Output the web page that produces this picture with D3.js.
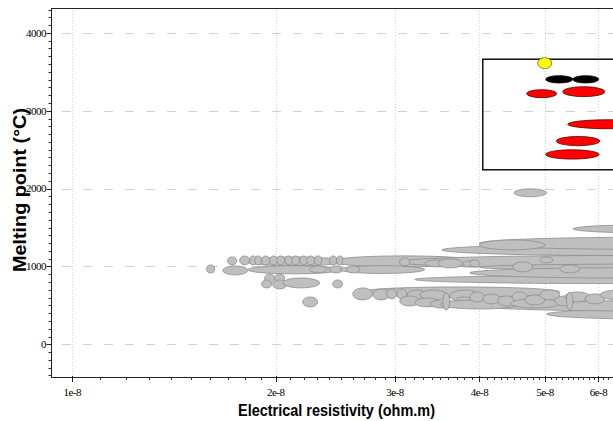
<!DOCTYPE html>
<html>
<head>
<meta charset="utf-8">
<script src="https://cdn.jsdelivr.net/npm/d3@7"></script>
<style>
  html, body { margin: 0; padding: 0; background: #fff; }
  svg { display: block; }
</style>
</head>
<body>
<svg id="chart" width="613" height="421"></svg>
<script>
// ---------------- DATA ----------------
// Each material: [resistivity low, resistivity high (ohm.m), melting low, melting high (°C)]
const otherMaterials = [
  [4.50e-8, 5.03e-8, 1895, 1997],
  [5.50e-8, 9.00e-8, 1432, 1534],
  [3.52e-8, 12.0e-8, 1140, 1285],
  [4.00e-8, 12.0e-8, 1220, 1375],
  [4.00e-8, 5.00e-8, 1213, 1340],
  [1.80e-8, 2.52e-8, 1007, 1123],
  [2.40e-8, 4.00e-8, 994, 1136],
  [3.05e-8, 12.0e-8, 975, 1140],
  [1.768e-8, 1.829e-8, 1020, 1135],
  [1.829e-8, 1.873e-8, 1020, 1135],
  [1.862e-8, 1.905e-8, 1020, 1135],
  [1.905e-8, 1.958e-8, 1020, 1135],
  [1.958e-8, 2.012e-8, 1020, 1135],
  [2.005e-8, 2.061e-8, 1020, 1135],
  [2.061e-8, 2.118e-8, 1020, 1135],
  [2.111e-8, 2.169e-8, 1020, 1135],
  [2.169e-8, 2.229e-8, 1020, 1135],
  [2.221e-8, 2.282e-8, 1020, 1135],
  [2.282e-8, 2.338e-8, 1020, 1135],
  [2.402e-8, 2.460e-8, 1020, 1135],
  [2.460e-8, 2.511e-8, 1020, 1135],
  [1.580e-8, 1.624e-8, 917, 1020],
  [1.697e-8, 1.750e-8, 1020, 1123],
  [1.669e-8, 1.817e-8, 891, 1007],
  [1.817e-8, 2.485e-8, 905, 1010],
  [2.244e-8, 2.378e-8, 917, 1007],
  [2.402e-8, 2.511e-8, 917, 1007],
  [1.925e-8, 1.992e-8, 788, 904],
  [1.992e-8, 2.061e-8, 801, 904],
  [1.905e-8, 1.972e-8, 724, 827],
  [1.979e-8, 2.075e-8, 711, 827],
  [2.047e-8, 2.322e-8, 724, 853],
  [2.427e-8, 2.511e-8, 724, 827],
  [2.191e-8, 2.306e-8, 480, 608],
  [2.485e-8, 3.321e-8, 910, 1010],
  [2.546e-8, 2.661e-8, 917, 1007],
  [3.049e-8, 3.155e-8, 1007, 1110],
  [3.321e-8, 3.616e-8, 994, 1084],
  [3.471e-8, 3.780e-8, 981, 1097],
  [3.780e-8, 3.965e-8, 994, 1072],
  [3.209e-8, 12.0e-8, 780, 885],
  [4.005e-8, 12.0e-8, 950, 1030],
  [3.871e-8, 12.0e-8, 850, 985],
  [3.871e-8, 4.005e-8, 994, 1084],
  [4.482e-8, 4.797e-8, 930, 1059],
  [4.913e-8, 5.135e-8, 1046, 1123],
  [5.259e-8, 5.630e-8, 917, 1020],
  [2.661e-8, 5.259e-8, 608, 737],
  [5.03e-8, 12.0e-8, 320, 455],
  [4.00e-8, 12.0e-8, 428, 560],
  [2.598e-8, 2.782e-8, 570, 724],
  [2.782e-8, 2.947e-8, 570, 711],
  [2.917e-8, 3.018e-8, 583, 711],
  [3.018e-8, 3.123e-8, 583, 711],
  [3.123e-8, 3.344e-8, 544, 698],
  [3.265e-8, 3.579e-8, 570, 698],
  [3.616e-8, 4.005e-8, 544, 698],
  [3.049e-8, 3.265e-8, 492, 621],
  [3.209e-8, 3.495e-8, 480, 595],
  [3.378e-8, 3.678e-8, 467, 570],
  [3.678e-8, 3.920e-8, 493, 608],
  [3.50e-8, 4.59e-8, 454, 570],
  [3.871e-8, 4.070e-8, 544, 673],
  [4.046e-8, 4.288e-8, 518, 647],
  [4.260e-8, 4.510e-8, 493, 621],
  [4.470e-8, 4.710e-8, 544, 673],
  [4.45e-8, 5.26e-8, 467, 583],
  [4.670e-8, 5.000e-8, 505, 634],
  [4.910e-8, 5.260e-8, 570, 698],
  [5.170e-8, 5.530e-8, 493, 621],
  [5.350e-8, 5.830e-8, 544, 673],
  [5.730e-8, 6.130e-8, 518, 647],
  [6.030e-8, 6.900e-8, 570, 698],
  [3.531e-8, 3.616e-8, 441, 660],
  [5.380e-8, 5.500e-8, 441, 673]
];
const selectedRed = [
  [4.699e-8, 5.205e-8, 3168, 3271],
  [5.313e-8, 6.129e-8, 3181, 3309],
  [5.404e-8, 7.150e-8, 2769, 2885],
  [5.200e-8, 6.027e-8, 2551, 2670],
  [5.013e-8, 6.012e-8, 2379, 2499]
];
const selectedBlack = [
  [5.013e-8, 5.498e-8, 3357, 3451],
  [5.498e-8, 6.005e-8, 3357, 3451]
];
const selectedYellow = [
  [4.879e-8, 5.117e-8, 3541, 3682]
];
// selection box: [res low, res high, melt low, melt high]
const selectionBox = [4.046e-8, 7.15e-8, 2242, 3662];

const xTickValues = [1e-8, 2e-8, 3e-8, 4e-8, 5e-8, 6e-8];
const xTickLabels = ["1e-8", "2e-8", "3e-8", "4e-8", "5e-8", "6e-8"];
const yTickValues = [0, 1000, 2000, 3000, 4000];
const yTickLabels = ["0", "1000", "2000", "3000", "4000"];
const xTitle = "Electrical resistivity (ohm.m)";
const yTitle = "Melting point (°C)";

// ---------------- LAYOUT ----------------
(function () {
const svg = d3.select("#chart");
const mL = 51, mT = 8, mB = 377, mR = 664;

const x = d3.scaleLog().domain([0.93e-8, 7.5e-8]).range([mL, mR]);
const y = d3.scaleLinear().domain([-420, 4320]).range([mB, mT]);

svg.append("defs").append("clipPath").attr("id", "plotclip")
  .append("rect").attr("x", mL).attr("y", mT)
  .attr("width", mR - mL).attr("height", mB - mT);

// gridlines
const grid = svg.append("g").attr("clip-path", "url(#plotclip)");
grid.selectAll("line.hg").data(yTickValues).enter().append("line")
  .attr("x1", mL).attr("x2", mR)
  .attr("y1", d => Math.round(y(d)) + 0.5).attr("y2", d => Math.round(y(d)) + 0.5)
  .attr("stroke", "#d2d2d2").attr("stroke-width", 1.2)
  .attr("stroke-dasharray", "9,12").attr("stroke-dashoffset", -11);
grid.selectAll("line.vg").data(xTickValues).enter().append("line")
  .attr("x1", d => Math.round(x(d)) + 0.5).attr("x2", d => Math.round(x(d)) + 0.5)
  .attr("y1", mT).attr("y2", mB)
  .attr("stroke", "#cfcfcf").attr("stroke-width", 1)
  .attr("stroke-dasharray", "1,2");

// ellipses
function ell(g, data, fill, stroke) {
  g.selectAll(null).data(data).enter().append("ellipse")
    .attr("cx", d => (x(d[0]) + x(d[1])) / 2)
    .attr("cy", d => (y(d[2]) + y(d[3])) / 2)
    .attr("rx", d => Math.abs(x(d[1]) - x(d[0])) / 2)
    .attr("ry", d => Math.abs(y(d[2]) - y(d[3])) / 2)
    .attr("fill", fill).attr("stroke", stroke).attr("stroke-width", 0.8);
}
const marks = svg.append("g").attr("clip-path", "url(#plotclip)");
ell(marks.append("g"), otherMaterials, "#bfbfbf", "#8e8e8e");

// selection box
marks.append("rect")
  .attr("x", x(selectionBox[0])).attr("y", y(selectionBox[3]))
  .attr("width", x(selectionBox[1]) - x(selectionBox[0]))
  .attr("height", y(selectionBox[2]) - y(selectionBox[3]))
  .attr("fill", "none").attr("stroke", "#111").attr("stroke-width", 1.5);

ell(marks.append("g"), selectedRed, "#ff0000", "#5a0000");
ell(marks.append("g"), selectedBlack, "#000000", "#000000");
ell(marks.append("g"), selectedYellow, "#ffff00", "#7a6a00");

// frame
svg.append("rect").attr("x", mL + 0.5).attr("y", mT + 0.5)
  .attr("width", mR - mL).attr("height", mB - mT)
  .attr("fill", "none").attr("stroke", "#222").attr("stroke-width", 1);

// y axis ticks
const yMinor = d3.range(-400, 4301, 100).filter(v => v % 1000 !== 0);
svg.selectAll("line.ymin").data(yMinor).enter().append("line")
  .attr("x1", mL - 2.5).attr("x2", mL)
  .attr("y1", d => Math.round(y(d)) + 0.5).attr("y2", d => Math.round(y(d)) + 0.5)
  .attr("stroke", "#333").attr("stroke-width", 1);
svg.selectAll("line.ymaj").data(yTickValues).enter().append("line")
  .attr("x1", mL - 4.5).attr("x2", mL)
  .attr("y1", d => Math.round(y(d)) + 0.5).attr("y2", d => Math.round(y(d)) + 0.5)
  .attr("stroke", "#222").attr("stroke-width", 1);
svg.selectAll("text.ylab").data(yTickValues).enter().append("text")
  .attr("x", mL - 5).attr("y", d => y(d) + 3.8)
  .attr("text-anchor", "end")
  .attr("font-family", "Liberation Serif, serif").attr("font-size", 11)
  .attr("letter-spacing", -0.5)
  .attr("fill", "#000")
  .text((d, i) => yTickLabels[i]);

// x axis ticks
const xMinor = d3.range(11, 71).filter(v => v % 10 !== 0).map(v => v * 1e-9);
svg.selectAll("line.xmin").data(xMinor).enter().append("line")
  .attr("x1", d => Math.round(x(d)) + 0.5).attr("x2", d => Math.round(x(d)) + 0.5)
  .attr("y1", mB).attr("y2", mB + 3)
  .attr("stroke", "#333").attr("stroke-width", 1);
svg.selectAll("line.xmaj").data(xTickValues).enter().append("line")
  .attr("x1", d => Math.round(x(d)) + 0.5).attr("x2", d => Math.round(x(d)) + 0.5)
  .attr("y1", mB - 1).attr("y2", mB + 5)
  .attr("stroke", "#222").attr("stroke-width", 1);
svg.selectAll("text.xlab").data(xTickValues).enter().append("text")
  .attr("x", d => x(d)).attr("y", 396)
  .attr("text-anchor", "middle")
  .attr("font-family", "Liberation Serif, serif").attr("font-size", 11)
  .attr("letter-spacing", -0.5)
  .attr("fill", "#000")
  .text((d, i) => xTickLabels[i]);

// titles
svg.append("text")
  .attr("x", 238).attr("y", 416)
  .attr("font-family", "Liberation Sans, Arial, sans-serif")
  .attr("font-weight", "bold").attr("font-size", 16.5)
  .attr("textLength", 197).attr("lengthAdjust", "spacingAndGlyphs")
  .attr("fill", "#000")
  .text(xTitle);
svg.append("text")
  .attr("transform", "translate(25.5,190) rotate(-90)")
  .attr("text-anchor", "middle")
  .attr("font-family", "Liberation Sans, Arial, sans-serif")
  .attr("font-weight", "bold").attr("font-size", 18)
  .attr("textLength", 164).attr("lengthAdjust", "spacingAndGlyphs")
  .attr("fill", "#000")
  .text(yTitle);
})();
</script>
</body>
</html>
